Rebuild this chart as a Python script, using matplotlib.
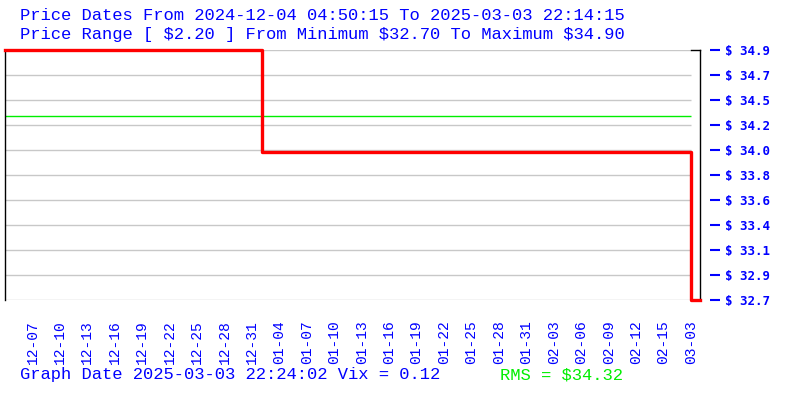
import matplotlib
matplotlib.use("Agg")
import matplotlib.pyplot as plt
import numpy as np

# --- data ---
title_lines = [
    "Price Dates From 2024-12-04 04:50:15 To 2025-03-03 22:14:15",
    "Price Range [ $2.20 ] From Minimum $32.70 To Maximum $34.90",
]
footer_text = "Graph Date 2025-03-03 22:24:02 Vix = 0.12"
rms_text = "RMS = $34.32"

date_labels = ["12-07", "12-10", "12-13", "12-16", "12-19", "12-22", "12-25",
               "12-28", "12-31", "01-04", "01-07", "01-10", "01-13", "01-16",
               "01-19", "01-22", "01-25", "01-28", "01-31", "02-03", "02-06",
               "02-09", "02-12", "02-15", "03-03"]

# step series: sample index -> price
step_idx = [0, 9.37, 25.0, 25.33]
step_price = [34.90, 34.00, 32.70, 32.70]

price_min = 32.70
price_max = 34.90
rms_value = 34.32
n_grid = 11

BLUE = "#0000ff"
GREEN = "#00ee00"
GRID = "#c8c8c8"
PX = 72 / 100  # points per pixel at dpi 100

fig = plt.figure(figsize=(8, 4), dpi=100)
ax = fig.add_axes([5 / 800, 100 / 400, 695 / 800, 250 / 400])

x_end = len(date_labels)
ax.set_xlim(0, step_idx[-1])
ax.set_ylim(price_min, price_max)

# grid lines
levels = np.linspace(price_max, price_min, n_grid)
ax.hlines(levels, 0, x_end, colors=GRID, linewidth=1, zorder=1)
ax.hlines(rms_value, 0, x_end, colors=GREEN, linewidth=1, zorder=2)

# price line
ax.plot(step_idx, step_price, drawstyle="steps-post", color="red",
        linewidth=2.4, zorder=3, clip_on=False)

# frame
for s in ["top", "bottom", "right"]:
    ax.spines[s].set_visible(False)
ax.spines["left"].set_color("black")
ax.spines["left"].set_linewidth(1)
ax.plot([1, 1], [0, 1], transform=ax.transAxes, color="black",
        linewidth=1, clip_on=False, zorder=2)
ax.plot([x_end, step_idx[-1]], [price_max, price_max], color="black",
        linewidth=1, clip_on=False, zorder=2)

# y ticks on the right
ax.yaxis.tick_right()
ax.spines["right"].set_position(("outward", 10 * PX))
ax.set_yticks(levels)
ax.set_yticklabels([f"$ {v:.1f}" for v in levels])
ax.tick_params(axis="y", which="both", left=False, right=True, length=10 * PX,
               width=1.5, color=BLUE, pad=5 * PX, direction="out")
for lab in ax.get_yticklabels():
    lab.set_color(BLUE)
    lab.set_fontfamily("DejaVu Sans Mono")
    lab.set_fontweight("bold")
    lab.set_fontsize(9)

# x ticks
ax.set_xticks(np.arange(1, x_end + 1))
ax.set_xticklabels(date_labels, rotation=90)
ax.tick_params(axis="x", length=0, pad=20 * PX)
for lab in ax.get_xticklabels():
    lab.set_color(BLUE)
    lab.set_fontfamily("Liberation Mono")
    lab.set_fontsize(10.5)

# header / footer text
fig.text(20 / 800, 1 - 15 / 400, title_lines[0], color=BLUE,
         family="Liberation Mono", fontsize=12.3, va="center", ha="left")
fig.text(20 / 800, 1 - 35 / 400, title_lines[1], color=BLUE,
         family="Liberation Mono", fontsize=12.3, va="center", ha="left")
fig.text(20 / 800, 1 - 375 / 400, footer_text, color=BLUE,
         family="Liberation Mono", fontsize=12.3, va="center", ha="left")
fig.text(500 / 800, 1 - 375 / 400, rms_text, color=GREEN,
         family="Liberation Mono", fontsize=12.3, va="center", ha="left")

fig.savefig("out.png", dpi=100, facecolor="white")
